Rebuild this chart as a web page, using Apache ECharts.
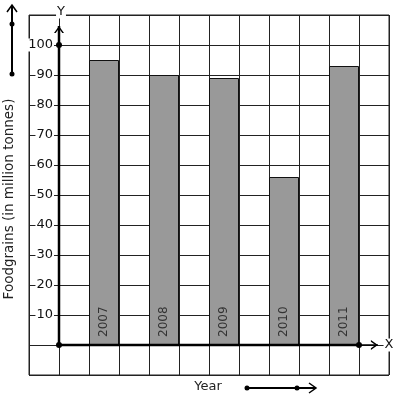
<!DOCTYPE html>
<html>
<head>
<meta charset="utf-8">
<script src="https://cdn.jsdelivr.net/npm/echarts@6/dist/echarts.min.js"></script>
<style>
  html, body { margin: 0; padding: 0; background: #fff; }
  #chart { width: 397px; height: 401px; }
</style>
</head>
<body>
<div id="chart"></div>
<script>
// 年份放在格子里的位置（每两格一根柱）
const slots = ['', '', '2007', '', '2008', '', '2009', '', '2010', '', '2011', '']
const years = ['2007', '2008', '2009', '2010', '2011']
const foodgrains = [95, 90, 89, 56, 93]
const yTicks = [10, 20, 30, 40, 50, 60, 70, 80, 90, 100]

// 箭头形状
const upArrow = 'path://M0,7 L5,0 L10,7 L8.3,7 L5,2.5 L1.7,7 Z'
const rightArrow = 'path://M0,0 L7,5 L0,10 L0,8.3 L4.5,5 L0,1.7 Z'

const myChart = echarts.init(document.getElementById('chart'))

// 柱子数据按格子摆放
const barData = slots.map(function (s) {
  const i = years.indexOf(s)
  return i < 0 ? '-' : foodgrains[i]
})

const font = 'DejaVu Sans'

let option = {
  animation: false,
  textStyle: { fontFamily: font },
  grid: {
    left: 29,
    top: 15,
    right: 8,
    bottom: 26,
    outerBoundsMode: 'none',
    containLabel: false,
    show: true,
    borderColor: '#222',
    borderWidth: 1
  },
  xAxis: [
    {
      type: 'value',
      min: -1,
      max: 11,
      interval: 1,
      axisLine: { show: false },
      axisTick: { show: false },
      axisLabel: { show: false },
      splitLine: { show: true, lineStyle: { color: '#222', width: 1 } }
    },
    {
      type: 'category',
      data: slots,
      boundaryGap: true,
      show: false
    }
  ],
  yAxis: {
    type: 'value',
    min: -10,
    max: 110,
    interval: 10,
    offset: -30,
    name: 'Foodgrains (in million tonnes)',
    nameLocation: 'middle',
    nameRotate: 90,
    nameGap: 40,
    nameTextStyle: { color: '#222', fontSize: 13.5, fontFamily: font, padding: [0, 8, 0, 0] },
    axisLine: { show: false },
    axisTick: { show: false },
    axisLabel: {
      margin: 5,
      color: '#111',
      fontSize: 13,
      fontFamily: font,
      backgroundColor: '#fff',
      padding: [0, 1],
      formatter: function (v) {
        return yTicks.indexOf(v) >= 0 ? String(v) : ''
      }
    },
    splitLine: { show: true, lineStyle: { color: '#222', width: 1 } }
  },
  graphic: [
    // 左上角的竖箭头
    { type: 'line', shape: { x1: 12, y1: 74, x2: 12, y2: 6 }, style: { stroke: '#000', lineWidth: 2 } },
    { type: 'polyline', shape: { points: [[7, 12], [12, 5], [17, 12]] }, style: { stroke: '#000', lineWidth: 1.5, fill: null } },
    { type: 'circle', shape: { cx: 12, cy: 24, r: 2.5 }, style: { fill: '#000' } },
    { type: 'circle', shape: { cx: 12, cy: 74, r: 2.5 }, style: { fill: '#000' } },
    // Year 箭头
    { type: 'text', x: 208, y: 387, style: { text: 'Year', font: '13px "DejaVu Sans"', fill: '#222', align: 'center', verticalAlign: 'middle' } },
    { type: 'line', shape: { x1: 247, y1: 388, x2: 316, y2: 388 }, style: { stroke: '#000', lineWidth: 2 } },
    { type: 'polyline', shape: { points: [[309, 383], [316, 388], [309, 393]] }, style: { stroke: '#000', lineWidth: 1.5, fill: null } },
    { type: 'circle', shape: { cx: 247, cy: 388, r: 2.5 }, style: { fill: '#000' } },
    { type: 'circle', shape: { cx: 297, cy: 388, r: 2.5 }, style: { fill: '#000' } },
    // 坐标轴名
    { type: 'text', x: 61, y: 12, z: 10, style: { text: 'Y', font: '13px "DejaVu Sans"', fill: '#111', align: 'center', verticalAlign: 'middle', backgroundColor: '#fff', padding: [0, 1] } },
    { type: 'text', x: 389, y: 345, z: 10, style: { text: 'X', font: '13px "DejaVu Sans"', fill: '#111', align: 'center', verticalAlign: 'middle', backgroundColor: '#fff', padding: [0, 1] } }
  ],
  series: [
    {
      type: 'bar',
      xAxisIndex: 1,
      data: barData,
      barWidth: '100%',
      itemStyle: { color: '#999', borderColor: '#111', borderWidth: 1 },
      label: {
        show: true,
        position: 'insideBottom',
        rotate: 90,
        align: 'left',
        verticalAlign: 'middle',
        distance: 10,
        offset: [-2, 0],
        formatter: '{b}',
        color: '#333',
        fontSize: 12,
        fontFamily: font
      },
      silent: true
    },
    {
      // Y 轴
      type: 'line',
      xAxisIndex: 0,
      silent: true,
      lineStyle: { color: '#000', width: 2.5 },
      itemStyle: { color: '#000' },
      showSymbol: true,
      data: [
        { value: [0, 0], symbol: 'circle', symbolSize: 6 },
        { value: [0, 100], symbol: 'circle', symbolSize: 6 },
        { value: [0, 106.3], symbol: upArrow, symbolSize: [10, 7], symbolOffset: [0, 3.5] }
      ],
      z: 5
    },
    {
      // X 轴
      type: 'line',
      xAxisIndex: 0,
      silent: true,
      lineStyle: { color: '#000', width: 2.5 },
      itemStyle: { color: '#000' },
      data: [
        { value: [0, 0], symbol: 'none' },
        { value: [10, 0], symbol: 'circle', symbolSize: 6 }
      ],
      z: 5
    },
    {
      type: 'line',
      xAxisIndex: 0,
      silent: true,
      lineStyle: { color: '#000', width: 1.5 },
      itemStyle: { color: '#000' },
      data: [
        { value: [10, 0], symbol: 'none' },
        { value: [10.63, 0], symbol: rightArrow, symbolSize: [7, 10], symbolOffset: [-3.5, 0] }
      ],
      z: 5
    }
  ]
}

myChart.clear()
myChart.setOption(option)
</script>
</body>
</html>
